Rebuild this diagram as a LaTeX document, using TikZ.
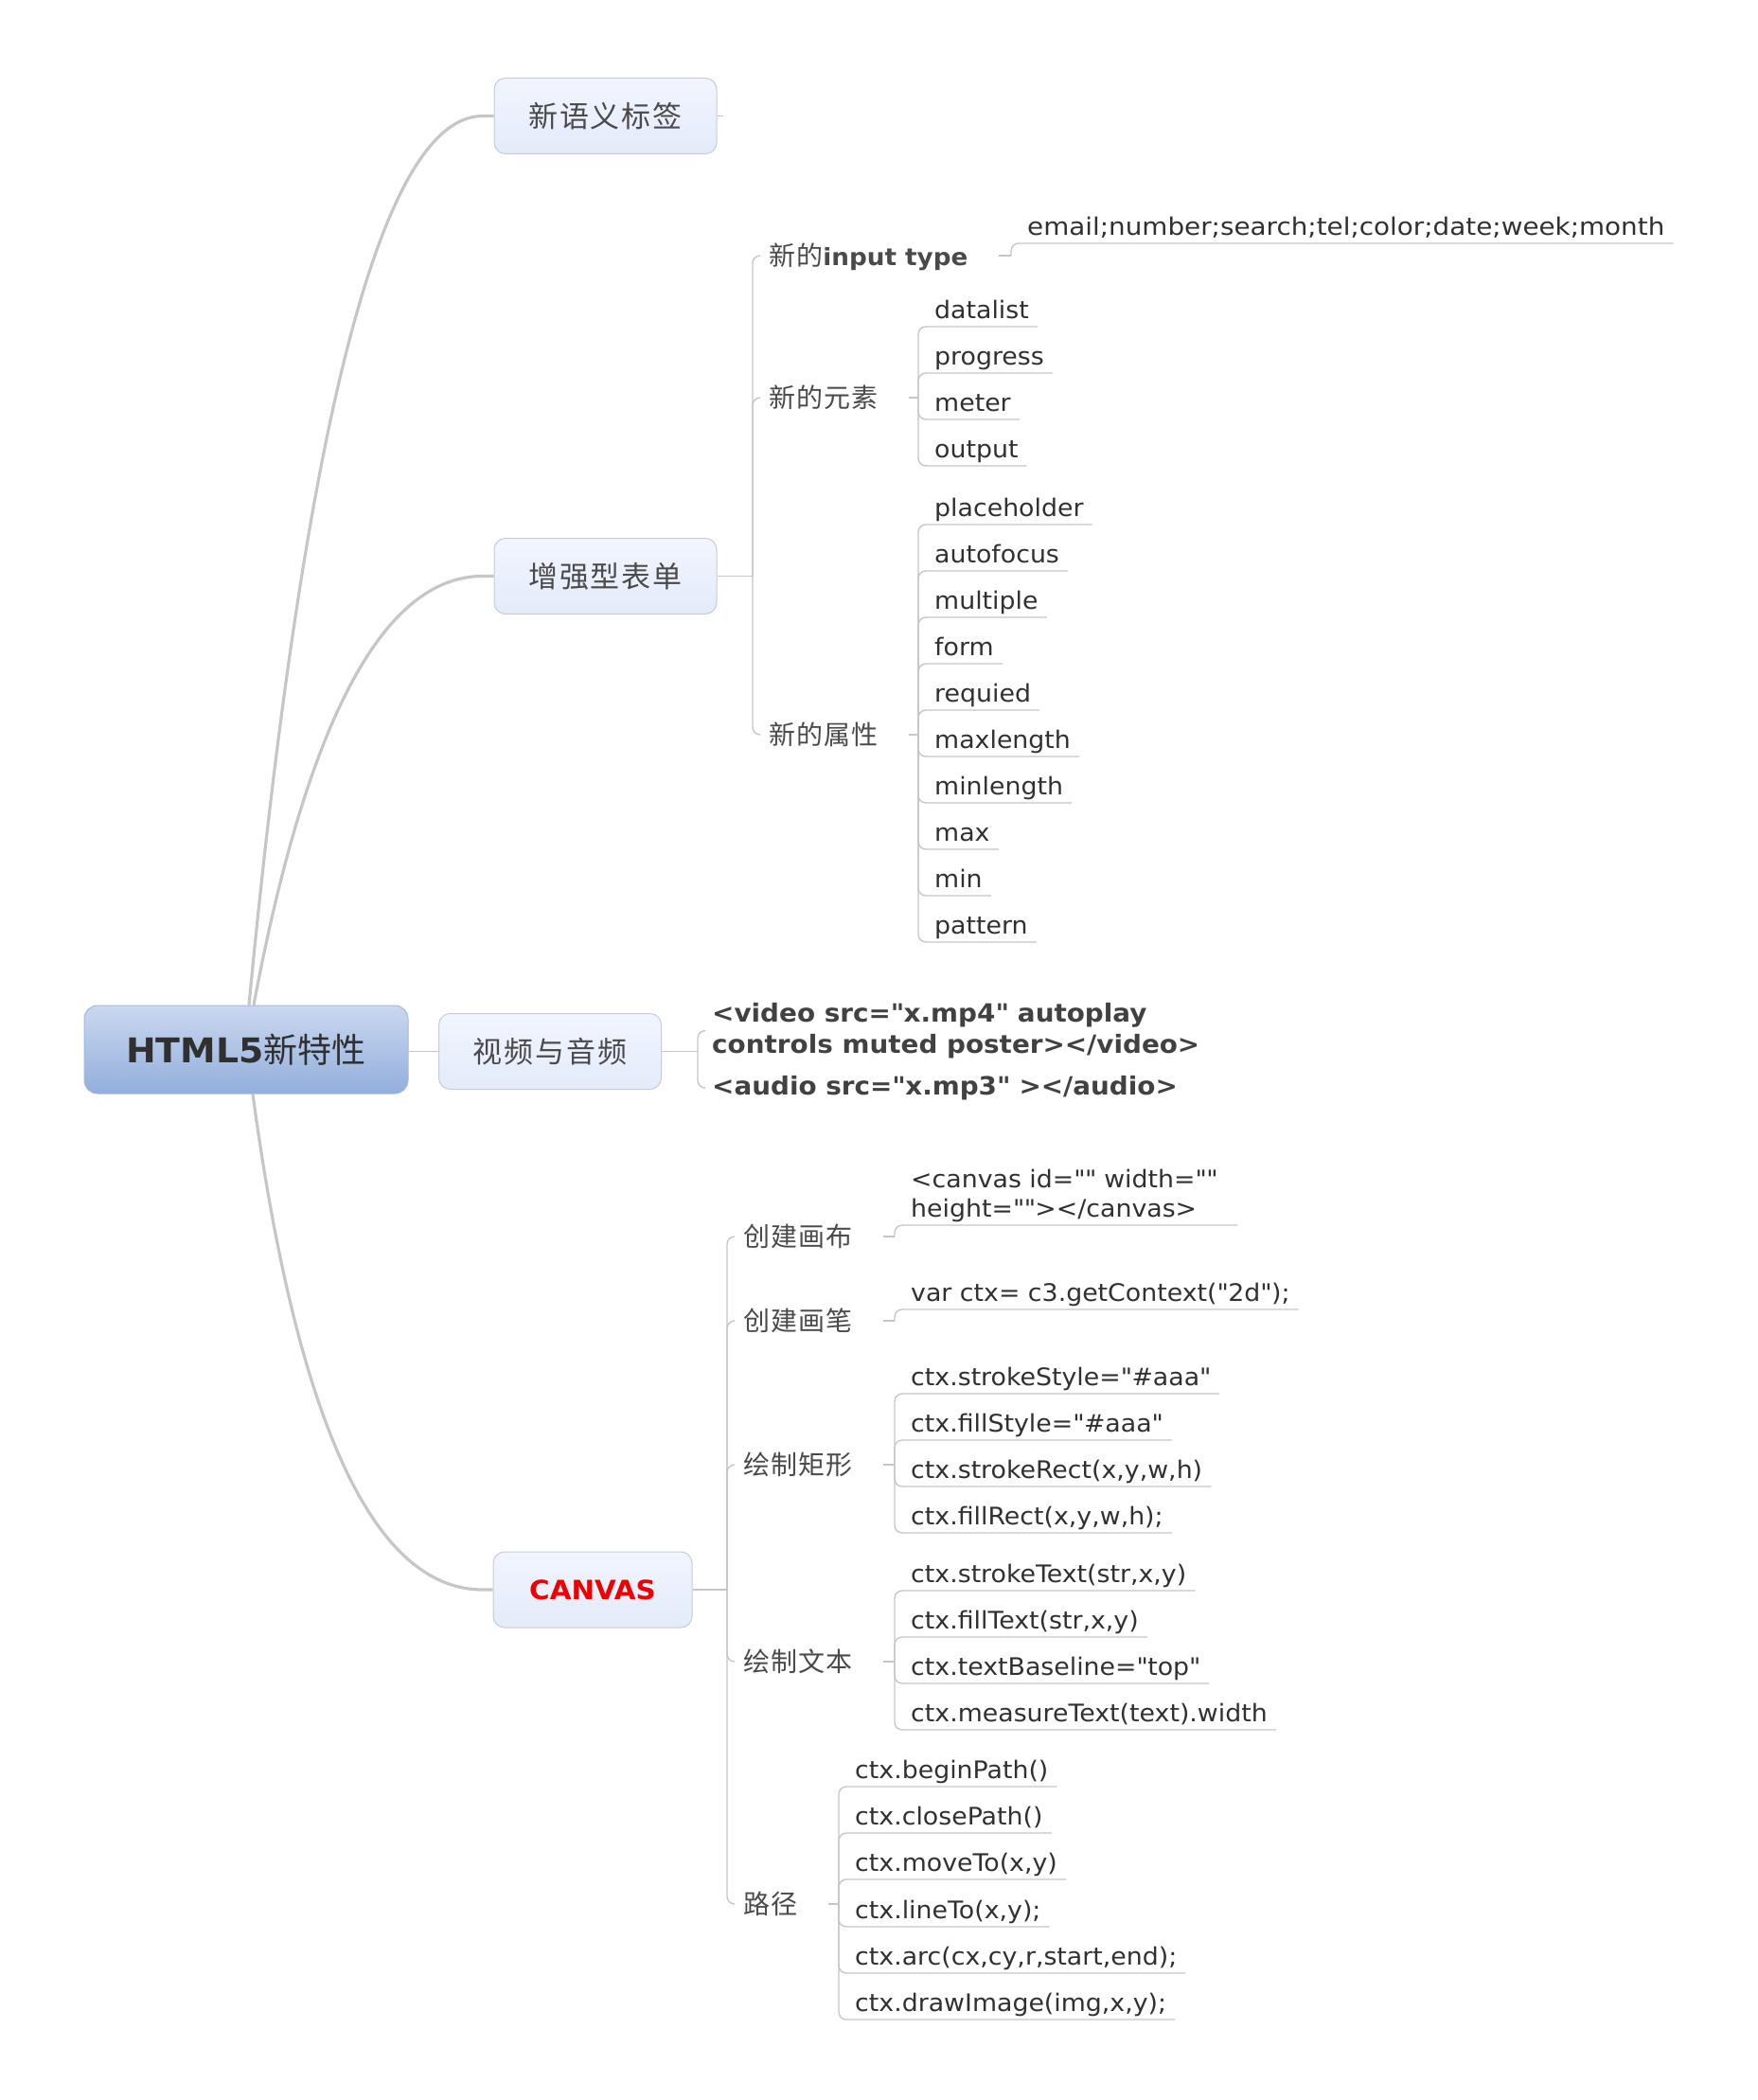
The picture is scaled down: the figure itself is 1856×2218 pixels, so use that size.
\documentclass[tikz,border=0pt]{standalone}
\usepackage{fontspec}
\setmainfont{DejaVu Sans}[FakeStretch=1.05]
\newfontfamily\cjk{Noto Sans CJK SC}
\newcommand\qt{\textquotedbl}
\usetikzlibrary{shadings,backgrounds}
\definecolor{txt}{HTML}{303030}
\definecolor{cjktxt}{HTML}{4A4A4A}
\definecolor{lin}{HTML}{C6C6C6}
\definecolor{boxtop}{HTML}{F1F5FE}
\definecolor{boxbot}{HTML}{E3EBFA}
\definecolor{boxline}{HTML}{C5CCD8}
\definecolor{roottop}{HTML}{CAD8F0}
\definecolor{rootbot}{HTML}{92AEDC}
\definecolor{rootline}{HTML}{A3B8DC}
\definecolor{canvasred}{HTML}{F00000}
\begin{document}
\begin{tikzpicture}[x=1pt,y=-1pt,
  box/.style={draw=boxline, line width=1pt, rounded corners=12pt, top color=boxtop, bottom color=boxbot,
    minimum width=235pt, minimum height=80pt, inner sep=0pt, text=cjktxt,
    font=\cjk\fontsize{31}{31}\selectfont\addfontfeature{LetterSpace=6}},
  rootbox/.style={draw=rootline, line width=1pt, rounded corners=14pt, top color=roottop, bottom color=rootbot,
    minimum width=342pt, minimum height=93pt, inner sep=0pt, text=txt},
  mid/.style={anchor=west, inner sep=0pt, text height=24pt, text depth=4pt, text=cjktxt,
    font=\cjk\fontsize{28}{28}\selectfont\addfontfeature{LetterSpace=4}},
  leaf/.style={anchor=south west, inner xsep=9pt, inner ysep=0pt, text height=19pt, text depth=8.3pt,
    text=txt, font=\fontsize{25.5}{31}\selectfont},
  vid/.style={anchor=west, inner sep=0pt, align=left, text=txt!92!white,
    font=\bfseries\fontsize{26.5}{33}\selectfont},
  conn/.style={draw=lin, line width=1.4pt, rounded corners=8pt},
  branch/.style={draw=lin, line width=3.2pt}
]
\useasboundingbox (0,0) rectangle (1856,2218);

% ---------- main nodes ----------
\node[rootbox] (root) at (260,1108.5) {{\bfseries\fontsize{36}{36}\selectfont HTML5}{\cjk\fontsize{36}{36}\selectfont 新特性}};
\node[box] (sem) at (639.5,122.5) {新语义标签};
\node[box] (form) at (639.5,608.5) {增强型表单};
\node[box] (media) at (581,1110.5) {视频与音频};
\node[box, minimum width=210pt, text=canvasred, font=\bfseries\fontsize{28}{28}\selectfont] (canvas) at (626,1679) {CANVAS};

% ---------- form group ----------
\node[mid] (m1) at (812,270) {新的{\rmfamily\bfseries\fontsize{25}{25}\selectfont input type}};
\node[mid] (m2) at (812,420) {新的元素};
\node[mid] (m3) at (812,776) {新的属性};

\node[leaf, font=\fontsize{25.5}{31}\selectfont\addfontfeature{FakeStretch=1.09}] (e1) at (1076,257) {email;number;search;tel;color;date;week;month};

\node[leaf] (a1) at (978,345) {datalist};
\node[leaf] (a2) at (978,394) {progress};
\node[leaf] (a3) at (978,443) {meter};
\node[leaf] (a4) at (978,492) {output};

\node[leaf] (b1) at (978,554) {placeholder};
\node[leaf] (b2) at (978,603) {autofocus};
\node[leaf] (b3) at (978,652) {multiple};
\node[leaf] (b4) at (978,701) {form};
\node[leaf] (b5) at (978,750) {requied};
\node[leaf] (b6) at (978,799) {maxlength};
\node[leaf] (b7) at (978,848) {minlength};
\node[leaf] (b8) at (978,897) {max};
\node[leaf] (b9) at (978,946) {min};
\node[leaf] (b10) at (978,995) {pattern};

% ---------- media group ----------
\node[vid] (v1) at (752,1088.5) {<video src=\qt x.mp4\qt{} autoplay\\controls muted poster></video>};
\node[vid] (v2) at (752,1149) {<audio src=\qt x.mp3\qt{} ></audio>};

% ---------- canvas group ----------
\node[mid] (c1) at (785,1306) {创建画布};
\node[mid] (c2) at (785,1395) {创建画笔};
\node[mid] (c3) at (785,1547) {绘制矩形};
\node[mid] (c4) at (785,1755) {绘制文本};
\node[mid] (c5) at (785,2011) {路径};

\node[leaf, align=left, text width=336pt, text depth=39.3pt] (d1) at (953,1294) {<canvas id=\qt\qt{} width=\qt\qt\\height=\qt\qt></canvas>};
\node[leaf] (d2) at (953,1383) {var ctx= c3.getContext(\qt 2d\qt);};

\node[leaf] (r1) at (953,1472) {ctx.strokeStyle=\qt\#aaa\qt};
\node[leaf] (r2) at (953,1521) {ctx.fillStyle=\qt\#aaa\qt};
\node[leaf] (r3) at (953,1570) {ctx.strokeRect(x,y,w,h)};
\node[leaf] (r4) at (953,1619) {ctx.fillRect(x,y,w,h);};

\node[leaf] (t1) at (953,1680) {ctx.strokeText(str,x,y)};
\node[leaf] (t2) at (953,1729) {ctx.fillText(str,x,y)};
\node[leaf] (t3) at (953,1778) {ctx.textBaseline=\qt top\qt};
\node[leaf] (t4) at (953,1827) {ctx.measureText(text).width};

\node[leaf] (p1) at (894,1887) {ctx.beginPath()};
\node[leaf] (p2) at (894,1936) {ctx.closePath()};
\node[leaf] (p3) at (894,1985) {ctx.moveTo(x,y)};
\node[leaf] (p4) at (894,2035) {ctx.lineTo(x,y);};
\node[leaf] (p5) at (894,2084) {ctx.arc(cx,cy,r,start,end);};
\node[leaf] (p6) at (894,2133) {ctx.drawImage(img,x,y);};

% ---------- junctions ----------
\coordinate (jf) at (795,608.5);
\coordinate (jE) at (1068,270);
\coordinate (jA) at (970,420);
\coordinate (jB) at (970,776);
\coordinate (jm) at (737,1110.5);
\coordinate (jc) at (768,1679);
\coordinate (jC1) at (945,1306);
\coordinate (jC2) at (945,1395);
\coordinate (jC3) at (945,1547);
\coordinate (jC4) at (945,1755);
\coordinate (jC5) at (886,2011);

\begin{scope}[on background layer]
% root branches
\draw[branch] ([xshift=3pt]root.north) .. controls (323,435) and (405,122.5) .. (510,122.5) -- (sem.west);
\draw[branch] ([xshift=8pt]root.north) .. controls (324.7,759.7) and (405.3,608.5) .. (510,608.5) -- (form.west);
\draw[branch] ([xshift=7pt]root.south) .. controls (314.3,1504.7) and (395.3,1679) .. (510,1679) -- (canvas.west);
\draw[conn] (media.west -| root.east) -- (media.west);
\draw[conn] (sem.east) -- ++(6,0);

% form
\draw[conn] (form.east) -- (jf);
\draw[conn] (jf) |- ([xshift=-9pt]m1.west);
\draw[conn] (jf) |- ([xshift=-9pt]m2.west);
\draw[conn] (jf) |- ([xshift=-9pt]m3.west);
\draw[conn] ([xshift=32pt]m1.east) -- (jE);
\draw[conn] (jE) |- (e1.south east);
\draw[conn] ([xshift=32pt]m2.east) -- (jA);
\foreach \n in {a1,a2,a3,a4} \draw[conn] (jA) |- (\n.south east);
\draw[conn] ([xshift=32pt]m3.east) -- (jB);
\foreach \n in {b1,b2,b3,b4,b5,b6,b7,b8,b9,b10} \draw[conn] (jB) |- (\n.south east);

% media
\draw[conn] (media.east) -- (jm);
\draw[conn] (jm) |- ([xshift=-7pt]v1.west);
\draw[conn] (jm) |- ([xshift=-7pt]v2.west);

% canvas
\draw[conn] (canvas.east) -- (jc);
\foreach \n in {c1,c2,c3,c4,c5} \draw[conn] (jc) |- ([xshift=-9pt]\n.west);
\draw[conn] ([xshift=32pt]c1.east) -- (jC1);
\draw[conn] (jC1) |- (d1.south east);
\draw[conn] ([xshift=32pt]c2.east) -- (jC2);
\draw[conn] (jC2) |- (d2.south east);
\draw[conn] ([xshift=32pt]c3.east) -- (jC3);
\foreach \n in {r1,r2,r3,r4} \draw[conn] (jC3) |- (\n.south east);
\draw[conn] ([xshift=32pt]c4.east) -- (jC4);
\foreach \n in {t1,t2,t3,t4} \draw[conn] (jC4) |- (\n.south east);
\draw[conn] ([xshift=32pt]c5.east) -- (jC5);
\foreach \n in {p1,p2,p3,p4,p5,p6} \draw[conn] (jC5) |- (\n.south east);
\end{scope}
\end{tikzpicture}
\end{document}
